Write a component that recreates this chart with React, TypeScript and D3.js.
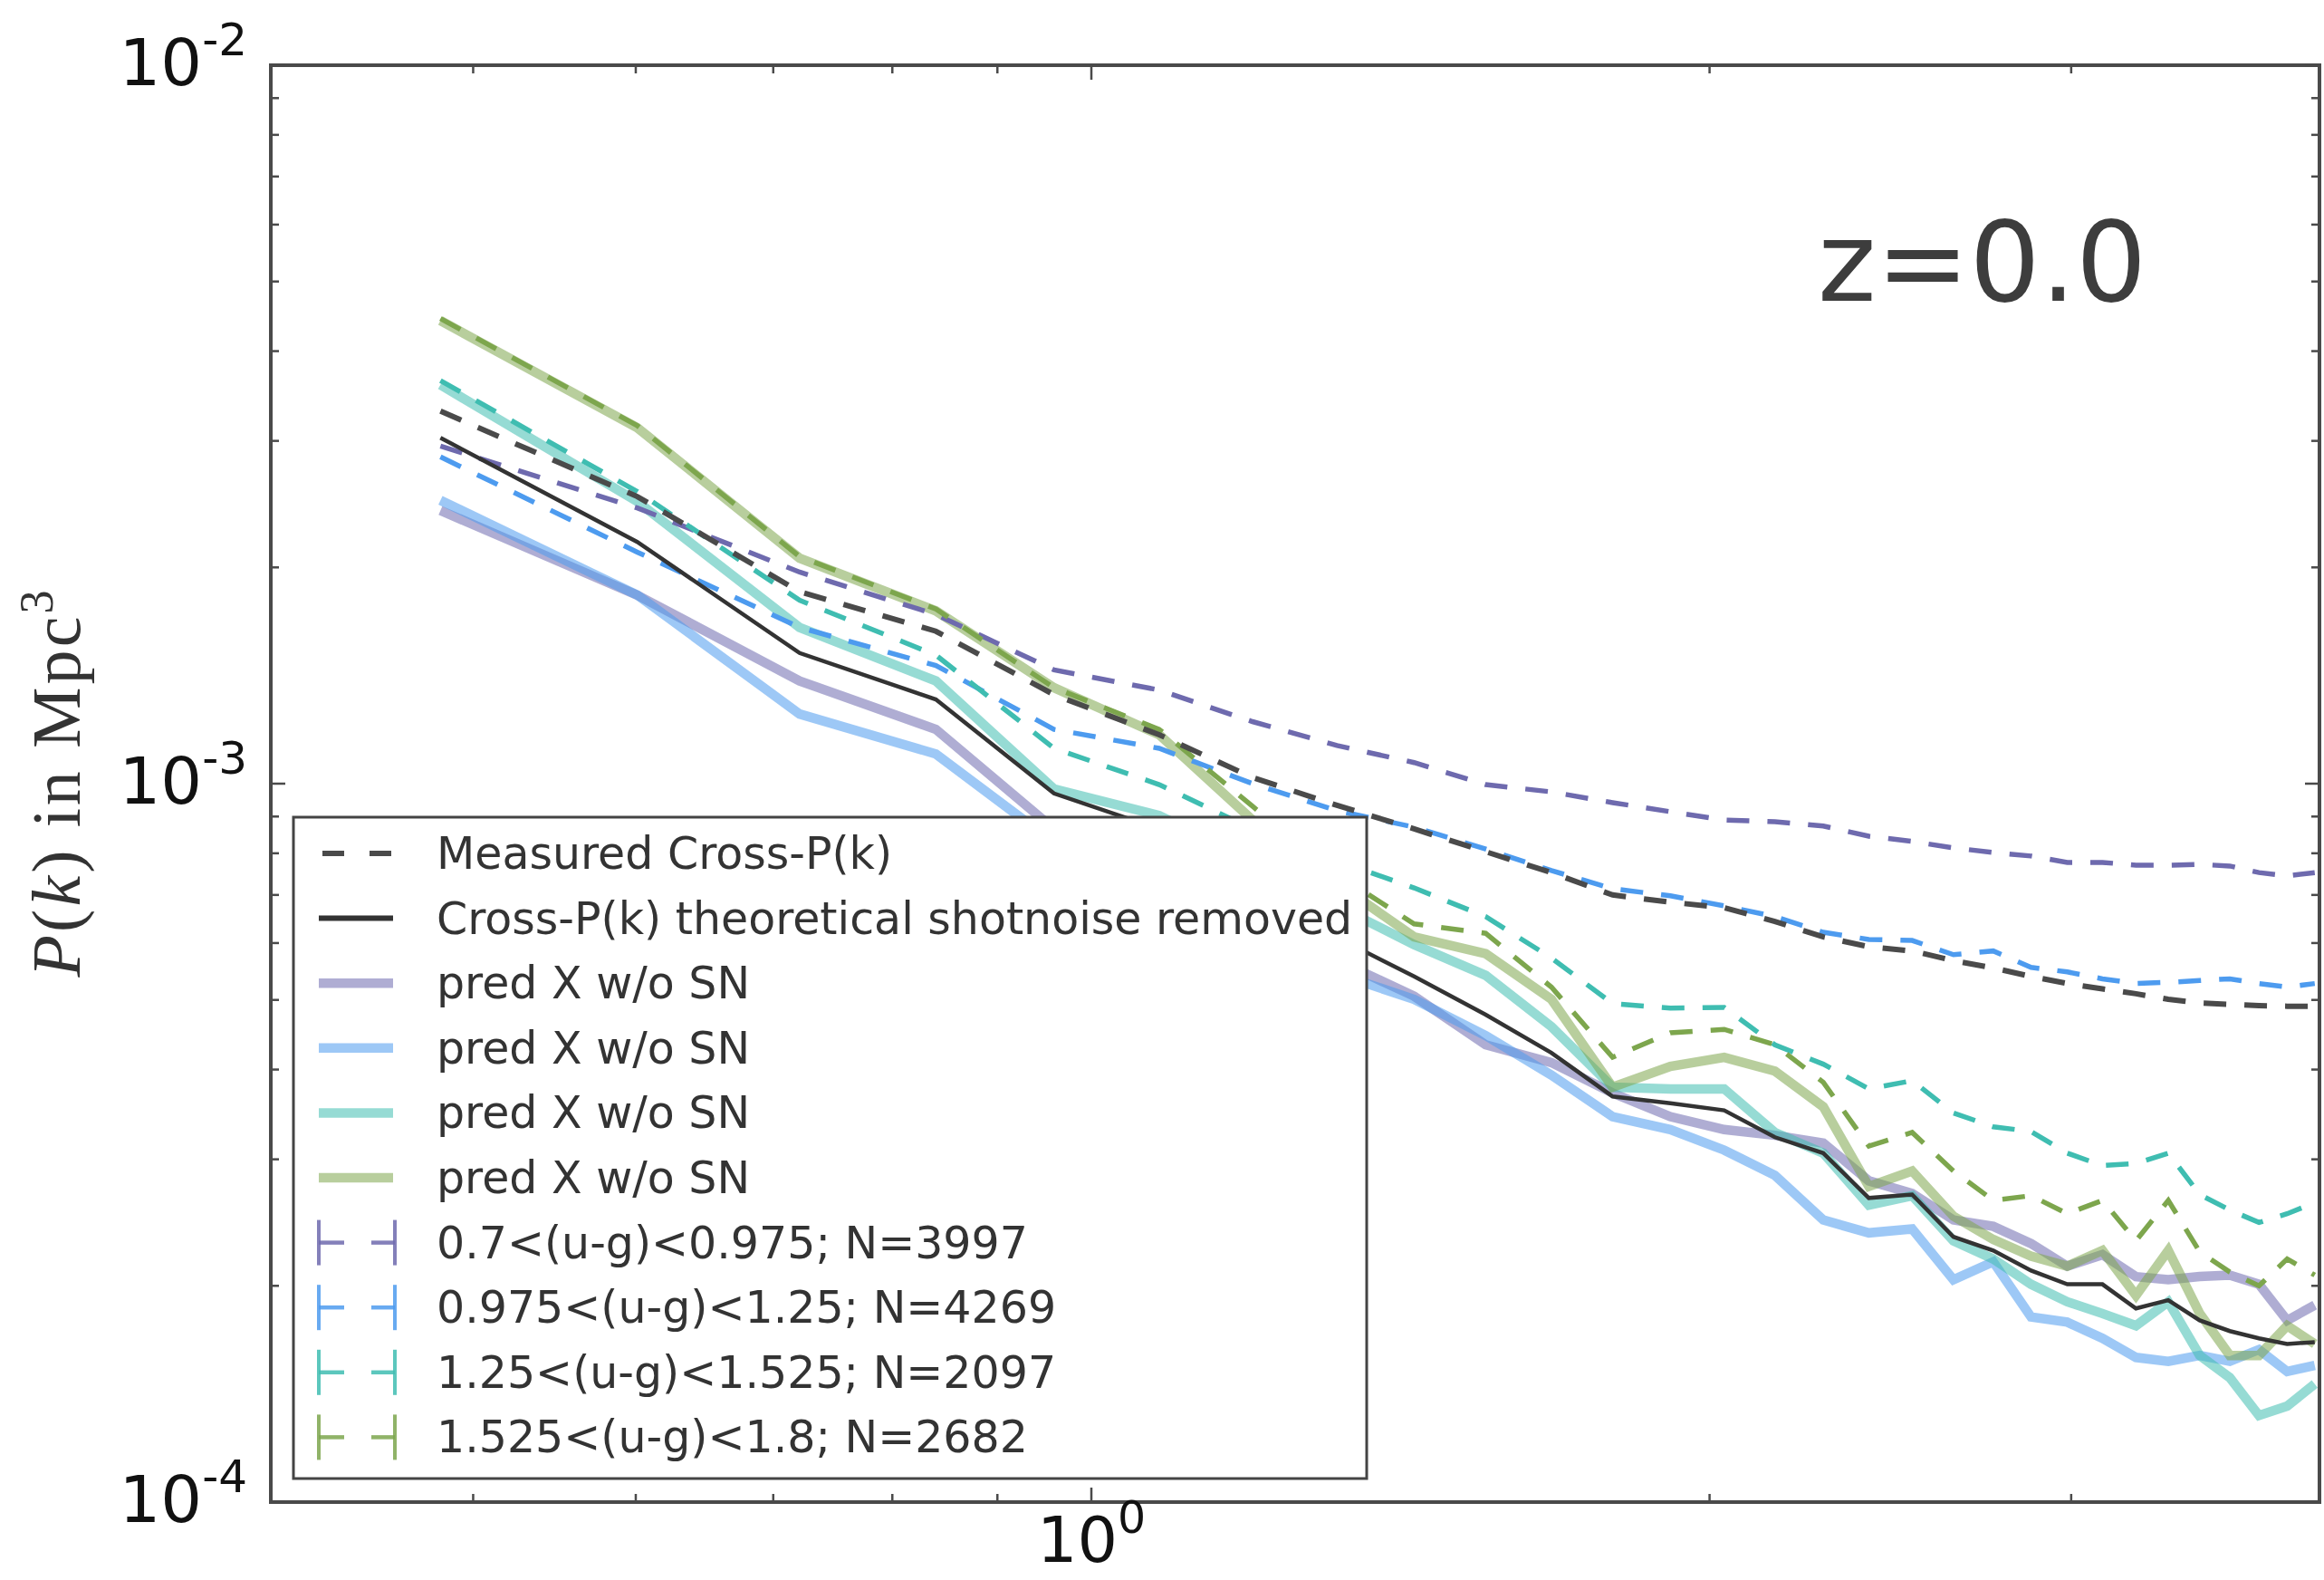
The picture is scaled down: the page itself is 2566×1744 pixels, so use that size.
import React from "react";
import * as d3 from "d3";

const W = 2566;
const H = 1744;

// wavenumber bins k
const K = [0.482, 0.601, 0.721, 0.84, 0.959, 1.079, 1.198, 1.317, 1.436, 1.556, 1.675, 1.794, 1.914, 2.033, 2.152, 2.272, 2.391, 2.51, 2.629, 2.749, 2.868, 2.987, 3.107, 3.226, 3.345, 3.465, 3.584, 3.703, 3.822, 3.942];

// Measured cross P(k) (all galaxies) and with shot noise removed
const crossMeasured = [3.3e-3, 2.51e-3, 1.85e-3, 1.63e-3, 1.33e-3, 1.17e-3, 1.02e-3, 9.33e-4, 8.65e-4, 8.04e-4, 7.52e-4, 7.0e-4, 6.84e-4, 6.72e-4, 6.43e-4, 6.12e-4, 5.93e-4, 5.85e-4, 5.67e-4, 5.54e-4, 5.39e-4, 5.27e-4, 5.18e-4, 5.1e-4, 5.01e-4, 4.95e-4, 4.93e-4, 4.91e-4, 4.9e-4, 4.9e-4];
const crossNoShot = [3.03e-3, 2.17e-3, 1.52e-3, 1.31e-3, 9.69e-4, 8.65e-4, 7.27e-4, 6.11e-4, 5.39e-4, 4.77e-4, 4.22e-4, 3.67e-4, 3.59e-4, 3.51e-4, 3.22e-4, 3.06e-4, 2.65e-4, 2.68e-4, 2.34e-4, 2.24e-4, 2.1e-4, 2.01e-4, 2.01e-4, 1.86e-4, 1.91e-4, 1.79e-4, 1.73e-4, 1.69e-4, 1.66e-4, 1.67e-4];

// measured per colour bin (dashed)
const measPurple = [2.95e-3, 2.42e-3, 1.97e-3, 1.72e-3, 1.44e-3, 1.35e-3, 1.22e-3, 1.13e-3, 1.07e-3, 9.97e-4, 9.74e-4, 9.41e-4, 9.14e-4, 8.9e-4, 8.85e-4, 8.73e-4, 8.45e-4, 8.31e-4, 8.14e-4, 8.02e-4, 7.93e-4, 7.77e-4, 7.77e-4, 7.7e-4, 7.7e-4, 7.72e-4, 7.68e-4, 7.52e-4, 7.44e-4, 7.52e-4];
const measBlue = [2.85e-3, 2.1e-3, 1.65e-3, 1.46e-3, 1.19e-3, 1.12e-3, 1.0e-3, 9.17e-4, 8.7e-4, 8.11e-4, 7.57e-4, 7.14e-4, 6.98e-4, 6.76e-4, 6.53e-4, 6.21e-4, 6.07e-4, 6.05e-4, 5.78e-4, 5.85e-4, 5.55e-4, 5.47e-4, 5.35e-4, 5.27e-4, 5.29e-4, 5.32e-4, 5.35e-4, 5.27e-4, 5.21e-4, 5.27e-4];
const measTeal = [3.64e-3, 2.55e-3, 1.8e-3, 1.51e-3, 1.12e-3, 9.97e-4, 8.65e-4, 7.81e-4, 7.16e-4, 6.53e-4, 5.72e-4, 4.94e-4, 4.87e-4, 4.88e-4, 4.33e-4, 4.07e-4, 3.76e-4, 3.86e-4, 3.48e-4, 3.33e-4, 3.28e-4, 3.06e-4, 2.94e-4, 2.96e-4, 3.06e-4, 2.68e-4, 2.55e-4, 2.45e-4, 2.52e-4, 2.61e-4];
const measGreen = [4.44e-3, 3.15e-3, 2.07e-3, 1.75e-3, 1.36e-3, 1.19e-3, 9.3e-4, 7.48e-4, 6.38e-4, 6.19e-4, 5.21e-4, 4.16e-4, 4.5e-4, 4.55e-4, 4.33e-4, 3.84e-4, 3.13e-4, 3.27e-4, 2.89e-4, 2.63e-4, 2.67e-4, 2.52e-4, 2.63e-4, 2.31e-4, 2.63e-4, 2.23e-4, 2.09e-4, 2.0e-4, 2.18e-4, 2.07e-4];

// predictions without shot noise (thick solid)
const predPurple = [2.4e-3, 1.83e-3, 1.39e-3, 1.19e-3, 8.65e-4, 7.59e-4, 6.57e-4, 5.68e-4, 5.06e-4, 4.33e-4, 4.09e-4, 3.71e-4, 3.44e-4, 3.3e-4, 3.24e-4, 3.16e-4, 2.8e-4, 2.69e-4, 2.47e-4, 2.42e-4, 2.29e-4, 2.13e-4, 2.21e-4, 2.06e-4, 2.04e-4, 2.06e-4, 2.07e-4, 2.01e-4, 1.79e-4, 1.88e-4];
const predBlue = [2.48e-3, 1.83e-3, 1.25e-3, 1.1e-3, 8.28e-4, 7.27e-4, 6.29e-4, 5.44e-4, 5.01e-4, 4.46e-4, 3.93e-4, 3.44e-4, 3.3e-4, 3.09e-4, 2.85e-4, 2.47e-4, 2.37e-4, 2.4e-4, 2.04e-4, 2.16e-4, 1.81e-4, 1.78e-4, 1.69e-4, 1.59e-4, 1.57e-4, 1.6e-4, 1.57e-4, 1.63e-4, 1.52e-4, 1.55e-4];
const predTeal = [3.59e-3, 2.47e-3, 1.65e-3, 1.39e-3, 9.83e-4, 9.03e-4, 7.81e-4, 6.76e-4, 5.97e-4, 5.41e-4, 4.59e-4, 3.78e-4, 3.76e-4, 3.76e-4, 3.27e-4, 3.06e-4, 2.59e-4, 2.67e-4, 2.31e-4, 2.18e-4, 2.01e-4, 1.9e-4, 1.83e-4, 1.76e-4, 1.9e-4, 1.6e-4, 1.49e-4, 1.32e-4, 1.36e-4, 1.46e-4];
const predGreen = [4.41e-3, 3.13e-3, 2.06e-3, 1.74e-3, 1.36e-3, 1.17e-3, 8.9e-4, 7.27e-4, 6.12e-4, 5.8e-4, 5.01e-4, 3.78e-4, 4.04e-4, 4.16e-4, 3.98e-4, 3.55e-4, 2.75e-4, 2.89e-4, 2.5e-4, 2.32e-4, 2.2e-4, 2.13e-4, 2.24e-4, 1.94e-4, 2.24e-4, 1.83e-4, 1.6e-4, 1.6e-4, 1.76e-4, 1.66e-4];

const groupColors = ["#6e6aae", "#4d9bef", "#3fbdb1", "#7da64d"];
const measuredSeries = [measPurple, measBlue, measTeal, measGreen];
const predSeries = [predPurple, predBlue, predTeal, predGreen];

const legendLabels = [
  "Measured Cross-P(k)",
  "Cross-P(k) theoretical shotnoise removed",
  "pred X w/o SN",
  "pred X w/o SN",
  "pred X w/o SN",
  "pred X w/o SN",
  "0.7<(u-g)<0.975; N=3997",
  "0.975<(u-g)<1.25; N=4269",
  "1.25<(u-g)<1.525; N=2097",
  "1.525<(u-g)<1.8; N=2682",
];

const xMajorTicks = [1];
const xMinorTicks = [0.5, 0.6, 0.7, 0.8, 0.9, 2, 3];
const yMajorTicks = [1e-4, 1e-3, 1e-2];
const yMinorTicks = [2e-4, 3e-4, 4e-4, 5e-4, 6e-4, 7e-4, 8e-4, 9e-4, 2e-3, 3e-3, 4e-3, 5e-3, 6e-3, 7e-3, 8e-3, 9e-3];
const yTickExp = ["-4", "-3", "-2"];

const FONT = "DejaVu Sans, sans-serif";

export default function App() {
  const L = 299, R = 2561, T = 72, B = 1658;
  const x = d3.scaleLog().domain([0.3985, 3.963]).range([L, R]);
  const y = d3.scaleLog().domain([1e-4, 1e-2]).range([B, T]);
  const line = (vals: number[]) =>
    d3.line<number>().x((_, i) => x(K[i])).y((v) => y(v))(vals) || "";

  const dash = "25,20";
  const legendRowsY = legendLabels.map((_, i) => 942 + i * 71.6);
  const hx1 = 352, hx2 = 434;

  return (
    <svg
      width={W}
      height={H}
      viewBox={`0 0 ${W} ${H}`}
      style={{ position: "absolute", left: 0, top: 0, display: "block", background: "#fff" }}
    >
      <defs>
        <clipPath id="plotclip">
          <rect x={L} y={T} width={R - L} height={B - T} />
        </clipPath>
      </defs>
      <rect x={0} y={0} width={W} height={H} fill="#fff" />

      <g clipPath="url(#plotclip)" fill="none" strokeLinejoin="miter">
        {predSeries.map((s, i) => (
          <path key={"p" + i} d={line(s)} stroke={groupColors[i]} strokeOpacity={0.55} strokeWidth={10.5} />
        ))}
        {measuredSeries.map((s, i) => (
          <path key={"m" + i} d={line(s)} stroke={groupColors[i]} strokeWidth={5.5} strokeDasharray={dash} />
        ))}
        <path d={line(crossMeasured)} stroke="#4a4a4a" strokeWidth={6} strokeDasharray={dash} />
        <path d={line(crossNoShot)} stroke="#333" strokeWidth={4.5} />
      </g>

      {/* spines */}
      <rect x={L} y={T} width={R - L} height={B - T} fill="none" stroke="#4a4a4a" strokeWidth={4} />

      {/* ticks */}
      <g stroke="#4a4a4a" strokeWidth={2.5}>
        {xMajorTicks.map((t) => (
          <g key={"xM" + t}>
            <line x1={x(t)} x2={x(t)} y1={B} y2={B - 16} />
            <line x1={x(t)} x2={x(t)} y1={T} y2={T + 16} />
          </g>
        ))}
        {xMinorTicks.map((t) => (
          <g key={"xm" + t}>
            <line x1={x(t)} x2={x(t)} y1={B} y2={B - 9} />
            <line x1={x(t)} x2={x(t)} y1={T} y2={T + 9} />
          </g>
        ))}
        {yMajorTicks.map((t) => (
          <g key={"yM" + t}>
            <line x1={L} x2={L + 16} y1={y(t)} y2={y(t)} />
            <line x1={R} x2={R - 16} y1={y(t)} y2={y(t)} />
          </g>
        ))}
        {yMinorTicks.map((t) => (
          <g key={"ym" + t}>
            <line x1={L} x2={L + 9} y1={y(t)} y2={y(t)} />
            <line x1={R} x2={R - 9} y1={y(t)} y2={y(t)} />
          </g>
        ))}
      </g>

      {/* tick labels */}
      <g fontFamily={FONT} fill="#111">
        {yMajorTicks.map((t, i) => (
          <text key={"yl" + t} x={273} y={y(t) + 22} textAnchor="end" fontSize={72}>
            10<tspan dy={-33} fontSize={50}>{yTickExp[i]}</tspan>
          </text>
        ))}
        {xMajorTicks.map((t) => (
          <text key={"xl" + t} x={x(t)} y={1724} textAnchor="middle" fontSize={70}>
            10<tspan dy={-32} fontSize={49}>0</tspan>
          </text>
        ))}
      </g>

      {/* y axis label */}
      <text
        transform="translate(88,865) rotate(-90)"
        textAnchor="middle"
        fontFamily="Liberation Serif, DejaVu Serif, serif"
        fontSize={76}
        fill="#333"
        textLength={427}
        lengthAdjust="spacing"
      >
        <tspan fontStyle="italic">P</tspan>(<tspan fontStyle="italic">k</tspan>) in Mpc
        <tspan dy={-30} fontSize={52}>3</tspan>
      </text>

      {/* redshift annotation */}
      <text x={2007} y={332} fontFamily={FONT} fontSize={123} fill="#3d3d3d">
        z=0.0
      </text>

      {/* legend */}
      <g>
        <rect x={324} y={902} width={1185} height={730} fill="#fff" stroke="#444" strokeWidth={3} />
        {legendLabels.map((lab, i) => {
          const cy = legendRowsY[i];
          let handle: React.ReactNode = null;
          if (i === 0) {
            handle = <line x1={hx1 + 4} x2={hx2} y1={cy} y2={cy} stroke="#4a4a4a" strokeWidth={6} strokeDasharray="24,28" />;
          } else if (i === 1) {
            handle = <line x1={hx1} x2={hx2} y1={cy} y2={cy} stroke="#333" strokeWidth={6} />;
          } else if (i < 6) {
            handle = (
              <line x1={hx1} x2={hx2} y1={cy} y2={cy} stroke={groupColors[i - 2]} strokeOpacity={0.55} strokeWidth={10.5} />
            );
          } else {
            const c = groupColors[i - 6];
            handle = (
              <g stroke={c} strokeOpacity={0.85}>
                <line x1={352} x2={352} y1={cy - 25} y2={cy + 25} strokeWidth={4} />
                <line x1={352} x2={380} y1={cy} y2={cy} strokeWidth={4.5} />
                <line x1={410} x2={436} y1={cy} y2={cy} strokeWidth={4.5} />
                <line x1={436} x2={436} y1={cy - 25} y2={cy + 25} strokeWidth={4} />
              </g>
            );
          }
          return (
            <g key={"lg" + i}>
              {handle}
              <text x={482} y={cy + 17} fontFamily={FONT} fontSize={49} fill="#333">
                {lab}
              </text>
            </g>
          );
        })}
      </g>
    </svg>
  );
}
